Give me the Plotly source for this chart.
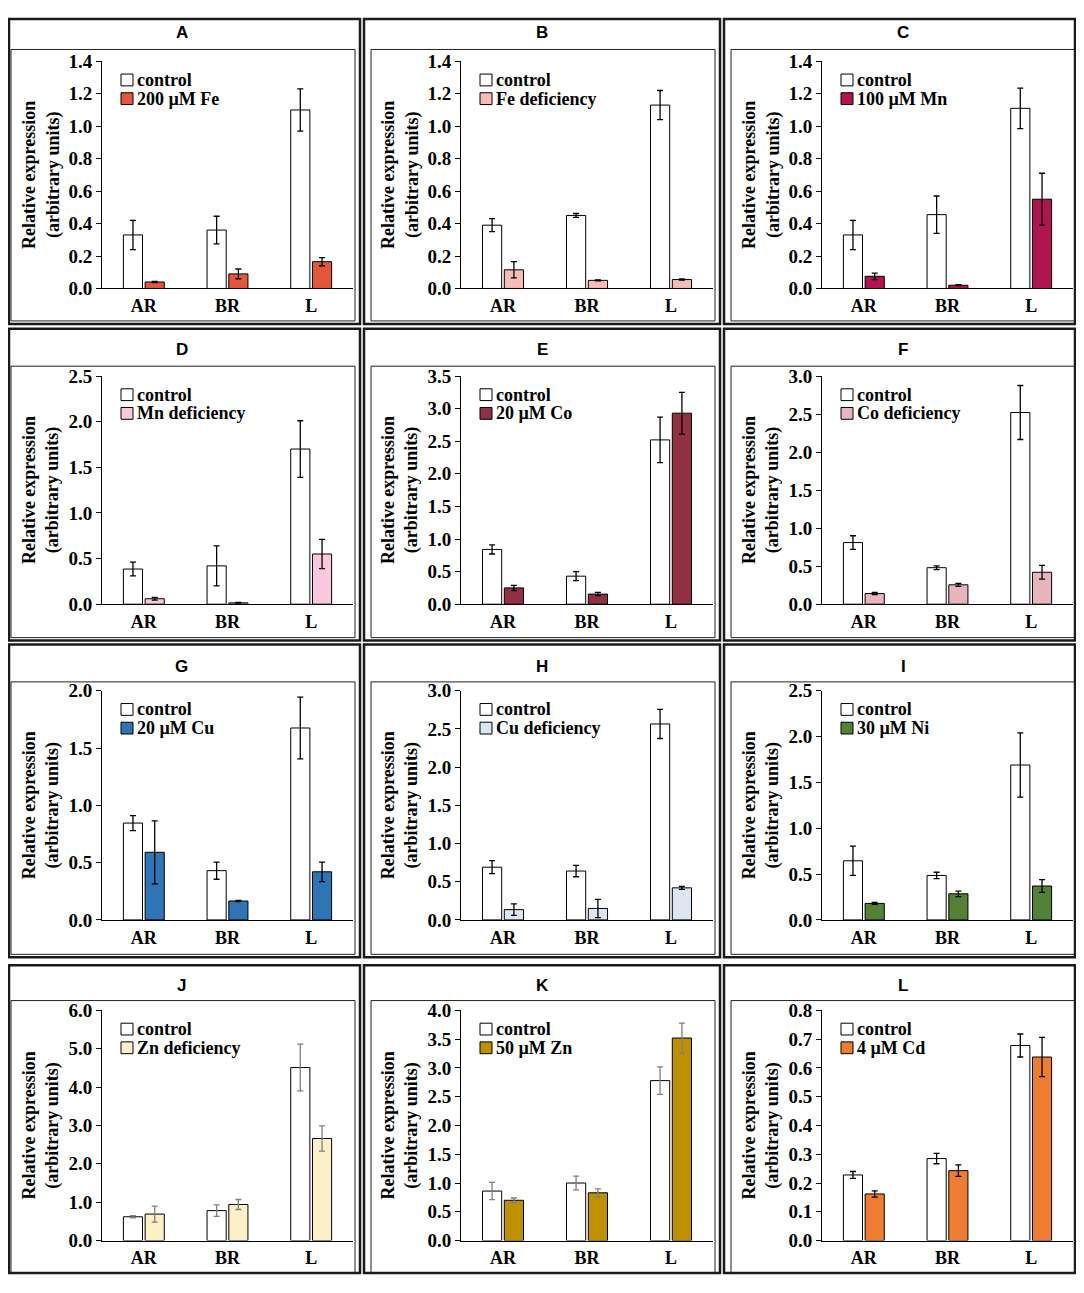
import plotly.graph_objects as go

# ---- data ----
tissues = ["AR", "BR", "L"]
panel_letters = ["A", "B", "C", "D", "E", "F", "G", "H", "I", "J", "K", "L"]
treatment_names = ["200 µM Fe", "Fe deficiency", "100 µM Mn", "Mn deficiency",
                   "20 µM Co", "Co deficiency", "20 µM Cu", "Cu deficiency",
                   "30 µM Ni", "Zn deficiency", "50 µM Zn", "4 µM Cd"]

a_ctrl, a_ctrl_err = [0.33, 0.36, 1.10], [0.09, 0.085, 0.13]
a_trt, a_trt_err = [0.04, 0.09, 0.165], [0.004, 0.03, 0.025]
b_ctrl, b_ctrl_err = [0.39, 0.45, 1.13], [0.04, 0.012, 0.09]
b_trt, b_trt_err = [0.115, 0.05, 0.055], [0.05, 0.003, 0.004]
c_ctrl, c_ctrl_err = [0.33, 0.455, 1.11], [0.09, 0.115, 0.125]
c_trt, c_trt_err = [0.075, 0.02, 0.55], [0.02, 0.003, 0.16]
d_ctrl, d_ctrl_err = [0.385, 0.42, 1.70], [0.075, 0.22, 0.31]
d_trt, d_trt_err = [0.06, 0.015, 0.55], [0.015, 0.004, 0.16]
e_ctrl, e_ctrl_err = [0.84, 0.43, 2.52], [0.07, 0.07, 0.35]
e_trt, e_trt_err = [0.25, 0.155, 2.93], [0.04, 0.025, 0.32]
f_ctrl, f_ctrl_err = [0.81, 0.48, 2.52], [0.09, 0.025, 0.355]
f_trt, f_trt_err = [0.14, 0.255, 0.42], [0.015, 0.02, 0.09]
g_ctrl, g_ctrl_err = [0.845, 0.43, 1.675], [0.065, 0.075, 0.27]
g_trt, g_trt_err = [0.59, 0.165, 0.42], [0.275, 0.005, 0.085]
h_ctrl, h_ctrl_err = [0.69, 0.64, 2.565], [0.085, 0.075, 0.19]
h_trt, h_trt_err = [0.135, 0.15, 0.42], [0.075, 0.12, 0.02]
i_ctrl, i_ctrl_err = [0.645, 0.485, 1.69], [0.16, 0.035, 0.35]
i_trt, i_trt_err = [0.18, 0.285, 0.37], [0.01, 0.03, 0.07]
j_ctrl, j_ctrl_err = [0.62, 0.78, 4.51], [0.03, 0.15, 0.61]
j_trt, j_trt_err = [0.69, 0.94, 2.66], [0.21, 0.13, 0.33]
k_ctrl, k_ctrl_err = [0.86, 1.00, 2.78], [0.15, 0.12, 0.24]
k_trt, k_trt_err = [0.70, 0.83, 3.52], [0.04, 0.07, 0.26]
l_ctrl, l_ctrl_err = [0.228, 0.285, 0.678], [0.012, 0.018, 0.04]
l_trt, l_trt_err = [0.162, 0.243, 0.638], [0.011, 0.02, 0.068]

y_max = [1.4, 1.4, 1.4, 2.5, 3.5, 3.0, 2.0, 3.0, 2.5, 6.0, 4.0, 0.8]
y_step = [0.2, 0.2, 0.2, 0.5, 0.5, 0.5, 0.5, 0.5, 0.5, 1.0, 0.5, 0.1]

# ---- styling ----
trt_colors = ["#E5573B", "#F5BDB5", "#B01550", "#F8C8DE", "#923144", "#E7B5BE",
              "#2F74B5", "#DCE6F2", "#538135", "#FDEFC8", "#BF9000", "#ED7D31"]
err_colors = ["black"] * 9 + ["#7F7F7F", "#7F7F7F", "black"]

ctrl_all = [a_ctrl, b_ctrl, c_ctrl, d_ctrl, e_ctrl, f_ctrl, g_ctrl, h_ctrl, i_ctrl, j_ctrl, k_ctrl, l_ctrl]
ctrl_err_all = [a_ctrl_err, b_ctrl_err, c_ctrl_err, d_ctrl_err, e_ctrl_err, f_ctrl_err,
                g_ctrl_err, h_ctrl_err, i_ctrl_err, j_ctrl_err, k_ctrl_err, l_ctrl_err]
trt_all = [a_trt, b_trt, c_trt, d_trt, e_trt, f_trt, g_trt, h_trt, i_trt, j_trt, k_trt, l_trt]
trt_err_all = [a_trt_err, b_trt_err, c_trt_err, d_trt_err, e_trt_err, f_trt_err,
               g_trt_err, h_trt_err, i_trt_err, j_trt_err, k_trt_err, l_trt_err]

# page is 1084x1293, the body has an 8px margin, so the figure is 16px smaller
PAGE_W, PAGE_H = 1084, 1293
OFF = 8
W, H = PAGE_W - 2 * OFF, PAGE_H - 2 * OFF
SERIF = "Liberation Serif"

# pixel geometry of the 4x3 grid (page pixels)
col_outer = [(3, 360), (364, 720), (724, 1082)]
col_inner = [(11, 355), (371, 715), (731, 1076)]
col_axis = [(102, 353), (461, 713), (822, 1073)]
row_outer = [(2, 319), (324, 641), (645, 963), (971, 1291)]
row_inner = [(40, 316), (362, 638), (683, 960), (1007, 1288)]
row_axis = [(52, 283), (372, 604), (692, 925), (1017, 1251)]
row_title = [23, 345, 667, 992]


def px(x):
    return min(max(x - OFF, 1), W - 1) / W


def py(y):
    return 1 - min(max(y - OFF, 1), H - 1) / H


fig = go.Figure()
shapes, annotations = [], []
layout_extra = {}
serif_bold = dict(family=SERIF, size=18, color="black", weight="bold")
tick_bold = dict(family=SERIF, size=19, color="black", weight="bold")

for i in range(12):
    r, c = divmod(i, 3)
    n = "" if i == 0 else str(i + 1)
    xa, ya = "x" + n, "y" + n

    fig.add_trace(go.Bar(
        x=tissues, y=ctrl_all[i], name="control", showlegend=False,
        marker=dict(color="white", line=dict(color="black", width=1)),
        error_y=dict(type="data", array=ctrl_err_all[i], color=err_colors[i], thickness=1.3, width=3),
        xaxis=xa, yaxis=ya,
    ))
    fig.add_trace(go.Bar(
        x=tissues, y=trt_all[i], name=treatment_names[i], showlegend=False,
        marker=dict(color=trt_colors[i], line=dict(color="black", width=1)),
        error_y=dict(type="data", array=trt_err_all[i], color=err_colors[i], thickness=1.3, width=3),
        xaxis=xa, yaxis=ya,
    ))

    x0, x1 = col_axis[c]
    ytop, yzero = row_axis[r]
    layout_extra["xaxis" + n] = dict(
        domain=[px(x0), px(x1)], anchor=ya, range=[-0.5, 2.5],
        showline=True, linecolor="black", linewidth=1, ticks="", showgrid=False,
        zeroline=False, tickfont=serif_bold, ticklabelstandoff=1,
    )
    layout_extra["yaxis" + n] = dict(
        domain=[py(yzero), py(ytop)], anchor=xa, range=[0, y_max[i]], dtick=y_step[i],
        tickformat=".1f", showline=True, linecolor="black", linewidth=1,
        ticks="outside", ticklen=5, tickcolor="black", showgrid=False, zeroline=False,
        tickfont=tick_bold,
    )

    # panel frames
    ox0, ox1 = col_outer[c]
    oy0, oy1 = row_outer[r]
    shapes.append(dict(type="rect", xref="paper", yref="paper",
                       x0=px(ox0), x1=px(ox1), y0=py(oy1), y1=py(oy0),
                       line=dict(color="#1a1a1a", width=2.5)))
    ix0, ix1 = col_inner[c]
    iy0, iy1 = row_inner[r]
    shapes.append(dict(type="rect", xref="paper", yref="paper",
                       x0=px(ix0), x1=px(ix1), y0=py(iy1), y1=py(iy0),
                       line=dict(color="#222222", width=1)))

    # legend inside each panel
    for k, (label, fill) in enumerate([("control", "white"), (treatment_names[i], trt_colors[i])]):
        yc = ytop + 19 + 19 * k
        shapes.append(dict(type="rect", xref="paper", yref="paper",
                           x0=px(x0 + 19), x1=px(x0 + 31), y0=py(yc + 6), y1=py(yc - 6),
                           fillcolor=fill, line=dict(color="black", width=1)))
        annotations.append(dict(
            text=label, xref="paper", yref="paper", x=px(x0 + 33), y=py(yc),
            showarrow=False, xanchor="left", yanchor="middle", font=serif_bold,
        ))

    annotations.append(dict(
        text=panel_letters[i], xref="paper", yref="paper",
        x=px((ox0 + ox1) / 2), y=py(row_title[r]), showarrow=False,
        xanchor="center", yanchor="middle",
        font=dict(family="Liberation Sans", size=17, color="black", weight="bold"),
    ))
    annotations.append(dict(
        text="Relative expression<br>(arbitrary units)", textangle=-90,
        xref="paper", yref="paper", x=px(x0 - 61), y=py((ytop + yzero) / 2),
        showarrow=False, xanchor="center", yanchor="middle", font=serif_bold,
    ))

fig.update_layout(
    width=W, height=H, margin=dict(l=0, r=0, t=0, b=0),
    paper_bgcolor="white", plot_bgcolor="white",
    barmode="group", bargap=0.48, bargroupgap=0.12,
    shapes=shapes, annotations=annotations, showlegend=False,
    **layout_extra,
)

fig.write_html("out.html")
